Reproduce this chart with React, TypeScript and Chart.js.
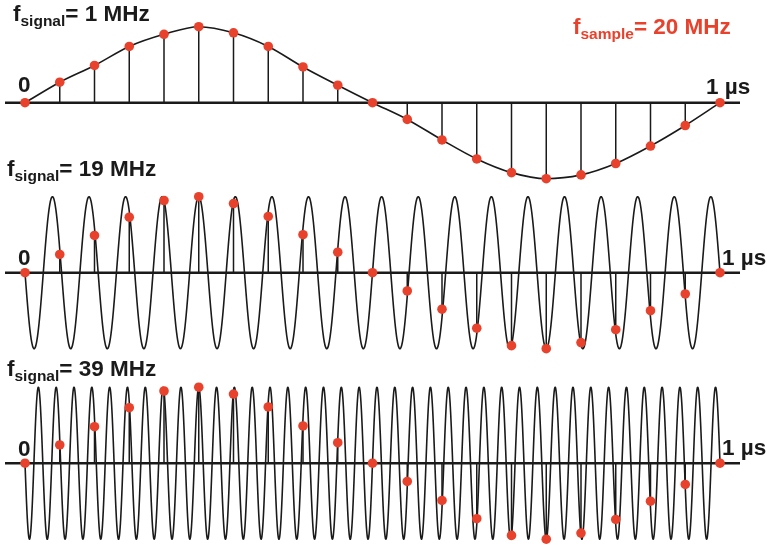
import React, { useEffect, useRef } from 'react';
import { Chart, registerables } from 'chart.js';

Chart.register(...registerables);

// ---------- data ----------
const sampleTimesUs = [0, 0.05, 0.1, 0.15, 0.2, 0.25, 0.3, 0.35, 0.4, 0.45, 0.5, 0.55, 0.6, 0.65, 0.7, 0.75, 0.8, 0.85, 0.9, 0.95, 1.0];
const signalFreqsMHz = [1, 19, 39];
const sampleFreqMHz = 20;
const samples1MHz = [0, 0.27, 0.49, 0.74, 0.9, 1.0, 0.92, 0.74, 0.47, 0.23, 0, -0.22, -0.49, -0.74, -0.92, -1.0, -0.95, -0.8, -0.57, -0.3, 0];
const samples19MHz = [0, 0.24, 0.49, 0.73, 0.95, 1.0, 0.91, 0.74, 0.5, 0.27, 0, -0.24, -0.48, -0.73, -0.96, -1.0, -0.92, -0.75, -0.5, -0.28, 0];
const samples39MHz = [0, 0.24, 0.48, 0.73, 0.95, 1.0, 0.91, 0.74, 0.49, 0.27, 0, -0.24, -0.49, -0.73, -0.95, -1.0, -0.92, -0.74, -0.5, -0.28, 0];
const panelSamples = [samples1MHz, samples19MHz, samples39MHz];
const timeStartLabel = '0';
const timeEndLabel = '1 \u00b5s';

// ---------- layout / style ----------
const W = 767;
const H = 545;
const AXIS_LEFT_PX = 5;
const AXIS_RIGHT_PX = 740;
const T0_PX = 25;
const T1_PX = 720;
const UNIT_PX = 76;
const PANEL_ZERO_PX = [102.7, 272.7, 463.2];
const RED = '#e8412c';
const INK = '#1a1a1a';
const FONT = '"Liberation Sans", Arial, Helvetica, sans-serif';
const MAIN_SIZE = 22.5;
const SUB_SIZE = 15.5;

const X_RANGE = (AXIS_RIGHT_PX - AXIS_LEFT_PX) / (T1_PX - T0_PX);
const X_MIN = -(T0_PX - AXIS_LEFT_PX) / (T1_PX - T0_PX);
const X_MAX = X_MIN + X_RANGE;

function carrier(fMHz: number, n = 3000) {
  const pts: { x: number; y: number }[] = [];
  for (let i = 0; i <= n; i++) {
    const t = i / n;
    pts.push({ x: t, y: -Math.sin(2 * Math.PI * fMHz * t) });
  }
  return pts;
}

function Label({ left, baseline, size = MAIN_SIZE, color = INK, children }: any) {
  return (
    <div
      style={{
        position: 'absolute',
        left,
        top: baseline - 0.8465 * size,
        fontFamily: FONT,
        fontWeight: 'bold',
        fontSize: size,
        lineHeight: size + 'px',
        color,
        whiteSpace: 'nowrap',
      }}
    >
      {children}
    </div>
  );
}

function Sub({ children }: any) {
  return <span style={{ fontSize: SUB_SIZE, position: 'relative', top: 5 }}>{children}</span>;
}

export default function App() {
  const ref = useRef<HTMLCanvasElement | null>(null);

  useEffect(() => {
    if (!ref.current) return;
    const datasets: any[] = [];
    const scales: any = {
      x: { type: 'linear', min: X_MIN, max: X_MAX, display: false, offset: false },
    };
    panelSamples.forEach((vals, k) => {
      const yId = 'y' + k;
      const yMax = PANEL_ZERO_PX[k] / UNIT_PX;
      scales[yId] = { type: 'linear', min: yMax - H / UNIT_PX, max: yMax, display: false };
      const pts = sampleTimesUs.map((t, i) => ({ x: t, y: vals[i] }));
      // sample dots
      datasets.push({
        type: 'line',
        data: pts,
        yAxisID: yId,
        showLine: false,
        pointRadius: 4.8,
        pointBorderWidth: 0,
        pointBackgroundColor: RED,
        pointBorderColor: RED,
        order: 0,
        clip: false,
      });
      // continuous signal
      datasets.push({
        type: 'line',
        data: k === 0 ? pts : carrier(signalFreqsMHz[k]),
        yAxisID: yId,
        borderColor: INK,
        borderWidth: 1.6,
        pointRadius: 0,
        cubicInterpolationMode: 'monotone',
        order: 1,
        clip: false,
      });
      // stems
      const stems: any[] = [];
      sampleTimesUs.forEach((t, i) => {
        stems.push({ x: t, y: 0 }, { x: t, y: vals[i] }, { x: t, y: null });
      });
      datasets.push({
        type: 'line',
        data: stems,
        yAxisID: yId,
        borderColor: INK,
        borderWidth: 1.5,
        pointRadius: 0,
        spanGaps: false,
        tension: 0,
        order: 2,
      });
      // time axis
      datasets.push({
        type: 'line',
        data: [
          { x: X_MIN, y: 0 },
          { x: X_MAX, y: 0 },
        ],
        yAxisID: yId,
        borderColor: INK,
        borderWidth: 2.4,
        pointRadius: 0,
        order: 3,
        clip: false,
      });
    });

    const chart = new Chart(ref.current, {
      type: 'line',
      data: { datasets },
      options: {
        animation: false,
        responsive: false,
        maintainAspectRatio: false,
        devicePixelRatio: 1,
        layout: {
          autoPadding: false,
          padding: { left: AXIS_LEFT_PX, right: W - AXIS_RIGHT_PX, top: 0, bottom: 0 },
        },
        scales,
        plugins: { legend: { display: false }, tooltip: { enabled: false } },
        events: [],
      },
    });
    return () => chart.destroy();
  }, []);

  const titleBaselines = [22, 177, 377];
  const titleLefts = [13, 7, 7];
  const zeroBaselines = [93, 266, 457];
  const endLefts = [706, 722, 722];
  const endBaselines = [95, 266, 456];

  return (
    <div style={{ position: 'absolute', left: 0, top: 0, width: W, height: H, background: '#fff' }}>
      <canvas ref={ref} width={W} height={H} style={{ position: 'absolute', left: 0, top: 0, width: W, height: H }} />
      {signalFreqsMHz.map((f, k) => (
        <Label key={'t' + k} left={titleLefts[k]} baseline={titleBaselines[k]}>
          f<Sub>signal</Sub>= {f} MHz
        </Label>
      ))}
      <Label left={573} baseline={35} color={RED}>
        f<Sub>sample</Sub>= {sampleFreqMHz} MHz
      </Label>
      {zeroBaselines.map((b, k) => (
        <Label key={'z' + k} left={18} baseline={b}>
          {timeStartLabel}
        </Label>
      ))}
      {endBaselines.map((b, k) => (
        <Label key={'e' + k} left={endLefts[k]} baseline={b}>
          {timeEndLabel}
        </Label>
      ))}
    </div>
  );
}
